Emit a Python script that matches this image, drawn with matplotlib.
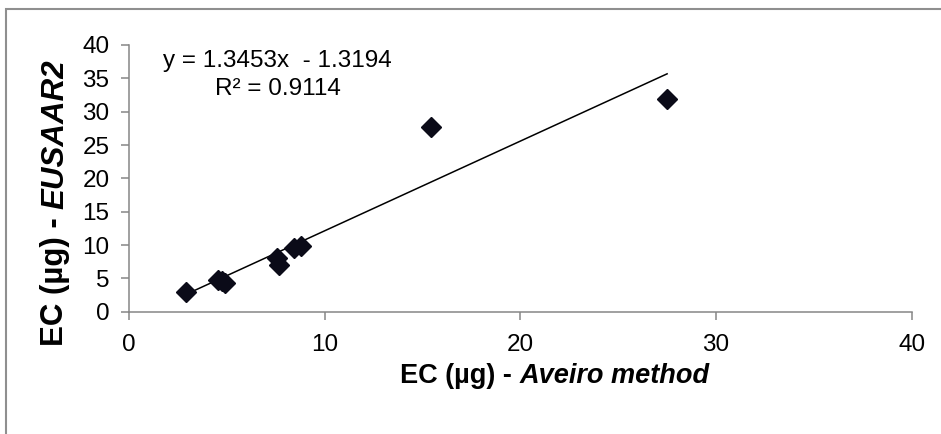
import matplotlib
matplotlib.use("Agg")
import matplotlib.pyplot as plt
from matplotlib.patches import Rectangle
import numpy as np

# ---- data ----
aveiro = [2.9, 4.55, 4.75, 4.9, 7.55, 7.65, 8.45, 8.8, 15.45, 27.5]
eusaar2 = [2.95, 4.75, 4.6, 4.3, 8.0, 7.0, 9.5, 9.85, 27.7, 31.9]
slope = 1.3453
intercept = -1.3194
r2 = 0.9114
x_ticks = [0, 10, 20, 30, 40]
y_ticks = [0, 5, 10, 15, 20, 25, 30, 35, 40]
eq_text = "y = 1.3453x  - 1.3194"
r2_text = "R\u00b2 = 0.9114"
xlabel_a, xlabel_b = "EC (\u00b5g) -", "Aveiro method"
ylabel_a, ylabel_b = "EC (\u00b5g) -", "EUSAAR2"

W, H = 941, 434
FONT = "Liberation Sans"
plt.rcParams["font.family"] = [FONT, "DejaVu Sans"]

fig = plt.figure(figsize=(W / 100, H / 100), dpi=100)
fig.patch.set_facecolor("white")

# outer chart frame (cut off at right and bottom)
fig.patches.append(Rectangle((6 / W, -0.1), 1.2, (H - 9) / H + 0.1,
                             transform=fig.transFigure, fill=False,
                             edgecolor="#8f8f8f", linewidth=1.5))

def px(x, y_top):
    return x / W, (H - y_top) / H

ax = fig.add_axes([129 / W, (H - 311.7) / H, (911.7 - 129) / W, (311.7 - 45) / H])
ax.set_xlim(0, 40)
ax.set_ylim(0, 40)
ax.set_xticks(x_ticks)
ax.set_yticks(y_ticks)
for s in ["top", "right"]:
    ax.spines[s].set_visible(False)
for s in ["left", "bottom"]:
    ax.spines[s].set_color("#868686")
    ax.spines[s].set_linewidth(1.1)
TFS = 17.5
ax.tick_params(axis="both", direction="out", length=6, width=1.1,
               color="#868686", labelsize=TFS, labelcolor="black")
ax.tick_params(axis="x", pad=10)
ax.tick_params(axis="y", pad=8)

xs = np.array([min(aveiro), max(aveiro)])
ax.plot(xs, slope * xs + intercept, color="black", linewidth=1.1, zorder=2)
ax.plot(aveiro, eusaar2, linestyle="none", marker="D", markersize=10.5,
        color="#0b0b18", markeredgecolor="#0b0b18", zorder=3, clip_on=False)

fig.text(*px(277.5, 61), eq_text, ha="center", va="center", fontsize=TFS)
fig.text(*px(277.5, 89), r2_text, ha="center", va="center", fontsize=TFS)

renderer = fig.canvas.get_renderer()

# x label with mixed bold / bold-italic
XFS = 19.5
gap = 0.278 * XFS * 100 / 72
t1 = fig.text(*px(400, 383), xlabel_a, ha="left", va="baseline",
              fontsize=XFS, fontweight="bold")
w1 = t1.get_window_extent(renderer).width
fig.text((400 + w1 + gap) / W, (H - 383) / H, xlabel_b, ha="left", va="baseline",
         fontsize=XFS, fontweight="bold", fontstyle="italic")

# y label
YFS = 22.5
gap = 0.278 * YFS * 100 / 72
t2 = fig.text(63 / W, 88 / H, ylabel_a, ha="left", va="baseline", rotation=90,
              rotation_mode="anchor", fontsize=YFS, fontweight="bold")
h2 = t2.get_window_extent(renderer).height
fig.text(63 / W, (88 + h2 + gap) / H, ylabel_b, ha="left", va="baseline",
         rotation=90, rotation_mode="anchor", fontsize=YFS, fontweight="bold",
         fontstyle="italic")

fig.savefig("out.png", dpi=100, facecolor="white")
